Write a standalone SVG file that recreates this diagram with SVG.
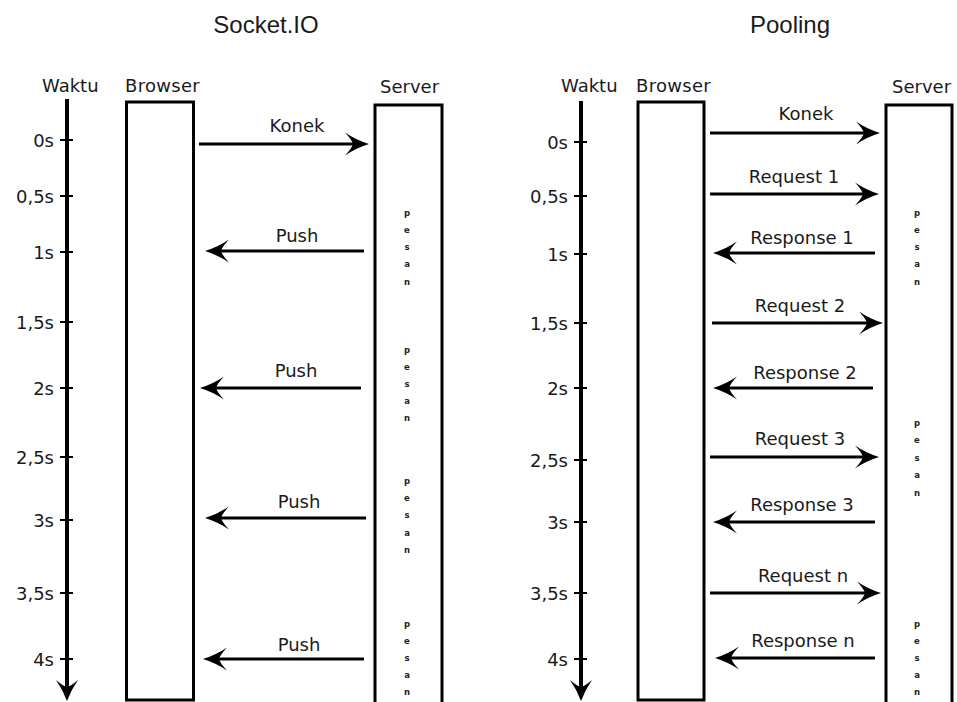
<svg xmlns="http://www.w3.org/2000/svg" width="957" height="702" viewBox="0 0 957 702">
<style>
text{font-family:"DejaVu Sans","Verdana",sans-serif;fill:#1a1a1a;}
.t{font-family:"Liberation Sans",Arial,sans-serif;font-size:24px;text-anchor:middle;}
.h{font-size:18px;}
.lb{font-size:18px;text-anchor:middle;}
.tm{font-size:18px;text-anchor:end;}
.ps{font-size:8.5px;font-weight:bold;text-anchor:middle;fill:#222;}
.box{fill:#fff;stroke:#000;stroke-width:3;}
.ax{stroke:#000;stroke-width:4;fill:none;}
.tk{stroke:#000;stroke-width:2;}
.ar{stroke:#000;stroke-width:3;fill:none;marker-end:url(#ah);}
</style>
<defs>
<marker id="ah" markerUnits="userSpaceOnUse" viewBox="-26 -13 28 26" markerWidth="28" markerHeight="26" refX="-8" refY="0" orient="auto">
<path d="M0,0 Q-13,-4 -24,-11.5 Q-17,-4 -16,0 Q-17,4 -24,11.5 Q-13,4 0,0Z" fill="#000"/>
</marker>
<marker id="axh" markerUnits="userSpaceOnUse" viewBox="-26 -13 28 26" markerWidth="28" markerHeight="26" refX="-8" refY="0" orient="auto">
<path d="M0,0 Q-11,-4 -21,-11 Q-15,-4 -14,0 Q-15,4 -21,11 Q-11,4 0,0Z" fill="#000"/>
</marker>
</defs>
<rect width="957" height="702" fill="#fff"/>

<text class="t" x="266" y="33">Socket.IO</text>
<text class="t" x="790" y="33">Pooling</text>

<!-- Left panel -->
<g id="left-axis">
<text class="h" x="42" y="92">Waktu</text>
<line class="ax" x1="67" y1="99" x2="67" y2="693" marker-end="url(#axh)"/>
<line class="tk" x1="60" y1="140" x2="73" y2="140"/><text class="tm" x="54" y="147">0s</text>
<line class="tk" x1="60" y1="196" x2="73" y2="196"/><text class="tm" x="54" y="203">0,5s</text>
<line class="tk" x1="60" y1="252" x2="73" y2="252"/><text class="tm" x="54" y="259">1s</text>
<line class="tk" x1="60" y1="322" x2="73" y2="322"/><text class="tm" x="54" y="329">1,5s</text>
<line class="tk" x1="60" y1="388" x2="73" y2="388"/><text class="tm" x="54" y="395">2s</text>
<line class="tk" x1="60" y1="457" x2="73" y2="457"/><text class="tm" x="54" y="464">2,5s</text>
<line class="tk" x1="60" y1="520" x2="73" y2="520"/><text class="tm" x="54" y="527">3s</text>
<line class="tk" x1="60" y1="593" x2="73" y2="593"/><text class="tm" x="54" y="600">3,5s</text>
<line class="tk" x1="60" y1="659" x2="73" y2="659"/><text class="tm" x="54" y="666">4s</text>
</g>
<g id="left-browser">
<text class="h" x="125" y="92" letter-spacing="0.3">Browser</text>
<rect class="box" x="126.5" y="102" width="67" height="598"/>
</g>
<g id="left-server">
<text class="h" x="380" y="93">Server</text>
<rect class="box" x="375" y="105" width="67" height="620"/>
<g class="pesan">
<text class="ps" x="407" y="216">p</text><text class="ps" x="407" y="233">e</text><text class="ps" x="407" y="250">s</text><text class="ps" x="407" y="267">a</text><text class="ps" x="407" y="285">n</text>
<text class="ps" x="407" y="353">p</text><text class="ps" x="407" y="370">e</text><text class="ps" x="407" y="387">s</text><text class="ps" x="407" y="404">a</text><text class="ps" x="407" y="421">n</text>
<text class="ps" x="407" y="484">p</text><text class="ps" x="407" y="501">e</text><text class="ps" x="407" y="518">s</text><text class="ps" x="407" y="536">a</text><text class="ps" x="407" y="553">n</text>
<text class="ps" x="407" y="627">p</text><text class="ps" x="407" y="644">e</text><text class="ps" x="407" y="661">s</text><text class="ps" x="407" y="678">a</text><text class="ps" x="407" y="695">n</text>
</g>
</g>

<!-- Right panel -->
<g id="right-axis">
<text class="h" x="561" y="92">Waktu</text>
<line class="ax" x1="581" y1="101" x2="581" y2="693" marker-end="url(#axh)"/>
<line class="tk" x1="574" y1="142" x2="587" y2="142"/><text class="tm" x="568" y="149">0s</text>
<line class="tk" x1="574" y1="196" x2="587" y2="196"/><text class="tm" x="568" y="203">0,5s</text>
<line class="tk" x1="574" y1="254" x2="587" y2="254"/><text class="tm" x="568" y="261">1s</text>
<line class="tk" x1="574" y1="323" x2="587" y2="323"/><text class="tm" x="568" y="330">1,5s</text>
<line class="tk" x1="574" y1="388" x2="587" y2="388"/><text class="tm" x="568" y="395">2s</text>
<line class="tk" x1="574" y1="460" x2="587" y2="460"/><text class="tm" x="568" y="467">2,5s</text>
<line class="tk" x1="574" y1="522" x2="587" y2="522"/><text class="tm" x="568" y="529">3s</text>
<line class="tk" x1="574" y1="593" x2="587" y2="593"/><text class="tm" x="568" y="600">3,5s</text>
<line class="tk" x1="574" y1="659" x2="587" y2="659"/><text class="tm" x="568" y="666">4s</text>
</g>
<g id="right-browser">
<text class="h" x="636" y="92" letter-spacing="0.3">Browser</text>
<rect class="box" x="638" y="102" width="66" height="598"/>
</g>
<g id="right-server">
<text class="h" x="892" y="93">Server</text>
<rect class="box" x="886" y="105" width="66" height="620"/>
<g class="pesan">
<text class="ps" x="917" y="216">p</text><text class="ps" x="917" y="233">e</text><text class="ps" x="917" y="250">s</text><text class="ps" x="917" y="267">a</text><text class="ps" x="917" y="285">n</text>
<text class="ps" x="917" y="426">p</text><text class="ps" x="917" y="443">e</text><text class="ps" x="917" y="461">s</text><text class="ps" x="917" y="478">a</text><text class="ps" x="917" y="496">n</text>
<text class="ps" x="917" y="627">p</text><text class="ps" x="917" y="644">e</text><text class="ps" x="917" y="661">s</text><text class="ps" x="917" y="678">a</text><text class="ps" x="917" y="695">n</text>
</g>
</g>

<g id="connectors">
<line class="ar" x1="199" y1="144" x2="361" y2="144"/><text class="lb" x="297" y="132">Konek</text>
<line class="ar" x1="364" y1="251" x2="213" y2="251"/><text class="lb" x="297" y="242">Push</text>
<line class="ar" x1="361" y1="388" x2="208" y2="388"/><text class="lb" x="296" y="377">Push</text>
<line class="ar" x1="366" y1="518" x2="213" y2="518"/><text class="lb" x="299" y="508">Push</text>
<line class="ar" x1="364" y1="659" x2="211" y2="659"/><text class="lb" x="299" y="651">Push</text>

<line class="ar" x1="710" y1="133" x2="872" y2="133"/><text class="lb" x="806" y="120">Konek</text>
<line class="ar" x1="710" y1="194" x2="871" y2="194"/><text class="lb" x="794" y="183">Request 1</text>
<line class="ar" x1="875" y1="253" x2="721" y2="253"/><text class="lb" x="802" y="244">Response 1</text>
<line class="ar" x1="712" y1="323" x2="875" y2="323"/><text class="lb" x="800" y="312">Request 2</text>
<line class="ar" x1="873" y1="388" x2="721" y2="388"/><text class="lb" x="805" y="379">Response 2</text>
<line class="ar" x1="710" y1="457" x2="871" y2="457"/><text class="lb" x="800" y="445">Request 3</text>
<line class="ar" x1="875" y1="522" x2="721" y2="522"/><text class="lb" x="802" y="511">Response 3</text>
<line class="ar" x1="710" y1="593" x2="873" y2="593"/><text class="lb" x="803" y="582">Request n</text>
<line class="ar" x1="875" y1="658" x2="723" y2="658"/><text class="lb" x="803" y="647">Response n</text>
</g>
</svg>
